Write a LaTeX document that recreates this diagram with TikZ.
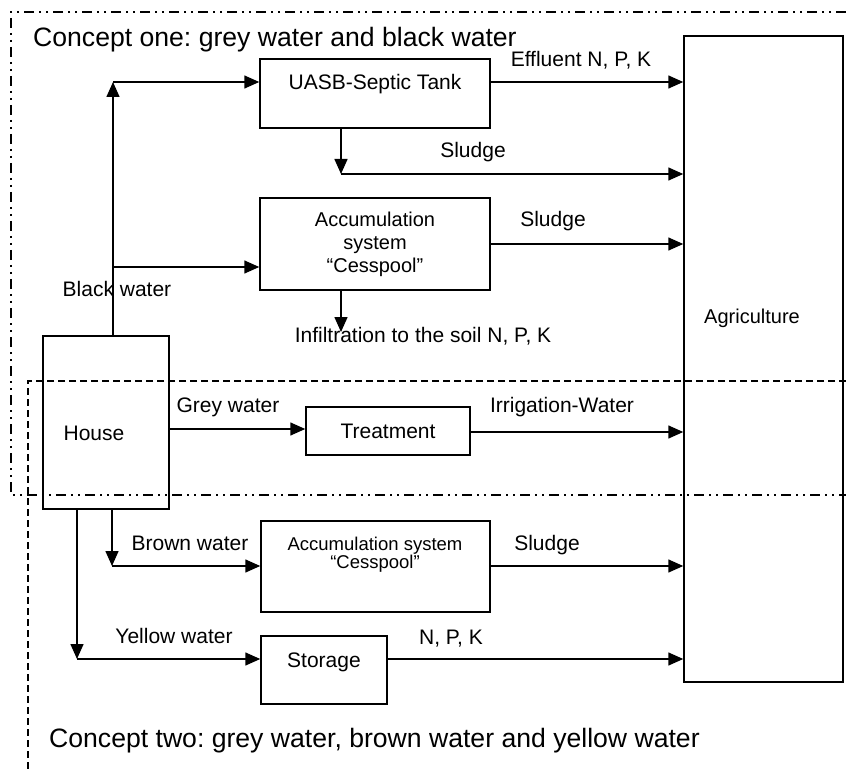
\documentclass[tikz,border=0pt]{standalone}
\usepackage{fontspec}
\setmainfont{Liberation Sans}
\usetikzlibrary{arrows.meta}
\frenchspacing
\begin{document}
\begin{tikzpicture}[x=1pt,y=-1pt,
  box/.style={draw, line width=1.5pt, inner sep=0pt},
  arr/.style={line width=1.5pt, -{Triangle[length=15pt,width=13pt]}},
  lbl/.style={inner sep=0pt, anchor=base, font=\fontsize{21}{25}\selectfont},
  ttl/.style={inner sep=0pt, anchor=base west, font=\fontsize{26.6}{30}\selectfont},
  dashdot/.style={line width=1.2pt, dash pattern=on 10pt off 5pt on 2pt off 5pt on 2pt off 5pt},
  dashline/.style={line width=1.2pt, dash pattern=on 7pt off 4pt}
]
\useasboundingbox (0,0) rectangle (846,770);

% concept borders
\coordinate (b1a) at (846,12);
\coordinate (b1b) at (11,12);
\coordinate (b1c) at (11,495);
\coordinate (b1d) at (846,495);
\draw[dashdot] (b1a) -- (b1b) -- (b1c) -- (b1d);
\coordinate (b2a) at (846,381);
\coordinate (b2b) at (28,381);
\coordinate (b2c) at (28,770);
\draw[dashline] (b2a) -- (b2b) -- (b2c);

% boxes
\node[box, minimum width=230pt, minimum height=69pt] (uasb) at (375,93.5) {};
\node[box, minimum width=230pt, minimum height=92pt, align=center,
      font=\fontsize{20}{23}\selectfont] (acc1) at (375,244) {Accumulation\\system\\“Cesspool”};
\node[box, minimum width=126pt, minimum height=173pt] (house) at (106,422.5) {};
\node[box, minimum width=164pt, minimum height=48pt,
      font=\fontsize{21}{25}\selectfont] (treat) at (388,431) {Treatment};
\node[box, minimum width=229pt, minimum height=91pt] (acc2) at (375.5,566.5) {};
\node[box, minimum width=126pt, minimum height=68pt] (stor) at (324,670) {};
\node[box, minimum width=159pt, minimum height=646pt] (agri) at (763.5,359) {};

% texts
\node[ttl] (t1) at (33,47) {Concept one: grey water and black water};
\node[ttl] (t2) at (49,747) {Concept two: grey water, brown water and yellow water};
\node[lbl] (uasbt) at (375,90) {UASB-Septic Tank};
\node[lbl] (efl) at (581,67) {Effluent N, P, K};
\node[lbl] (sl1) at (473,158) {Sludge};
\node[lbl] (sl2) at (553,227) {Sludge};
\node[lbl] (blk) at (117,296) {Black water};
\node[lbl] (inf) at (423,342) {Infiltration to the soil N, P, K};
\node[lbl] (houset) at (94,440) {House};
\node[lbl] (grey) at (228,412) {Grey water};
\node[lbl] (irr) at (562,412) {Irrigation-Water};
\node[lbl, font=\fontsize{20}{24}\selectfont] (agrit) at (752,323) {Agriculture};
\node[lbl] (brown) at (190,550) {Brown water};
\node[lbl, font=\fontsize{18.5}{22}\selectfont] (acc2a) at (375,550) {Accumulation system};
\node[lbl, font=\fontsize{18.5}{22}\selectfont] (acc2b) at (375,568) {“Cesspool”};
\node[lbl] (sl3) at (547,550) {Sludge};
\node[lbl] (yel) at (174,643) {Yellow water};
\node[lbl] (stort) at (324,667) {Storage};
\node[lbl] (npk) at (451,644) {N, P, K};

% connector corners
\coordinate (c1) at (113,82);
\coordinate (c2) at (113,267);
\coordinate (c3) at (341,174);
\coordinate (c4) at (341,332);
\coordinate (c5) at (112,566);
\coordinate (c6) at (77,659);
\coordinate (g1) at (169,429);
\coordinate (g2) at (470,432);

% connectors
\draw[arr] (house.north -| c1) -- (c1);
\draw[arr] (c1) -- (c1 -| uasb.west);
\draw[arr] (c2) -- (c2 -| acc1.west);
\draw[arr] (uasb.east |- c1) -- (c1 -| agri.west);
\draw[arr] (uasb.south -| c3) -- (c3);
\draw[arr] (c3) -- (c3 -| agri.west);
\draw[arr] (acc1.east) -- (acc1.east -| agri.west);
\draw[arr] (acc1.south -| c4) -- (c4);
\draw[arr] (g1) -- (g1 -| treat.west);
\draw[arr] (g2) -- (g2 -| agri.west);
\draw[arr] (house.south -| c5) -- (c5);
\draw[arr] (c5) -- (c5 -| acc2.west);
\draw[arr] (acc2.east |- c5) -- (c5 -| agri.west);
\draw[arr] (house.south -| c6) -- (c6);
\draw[arr] (c6) -- (c6 -| stor.west);
\draw[arr] (stor.east |- c6) -- (c6 -| agri.west);
\end{tikzpicture}
\end{document}
